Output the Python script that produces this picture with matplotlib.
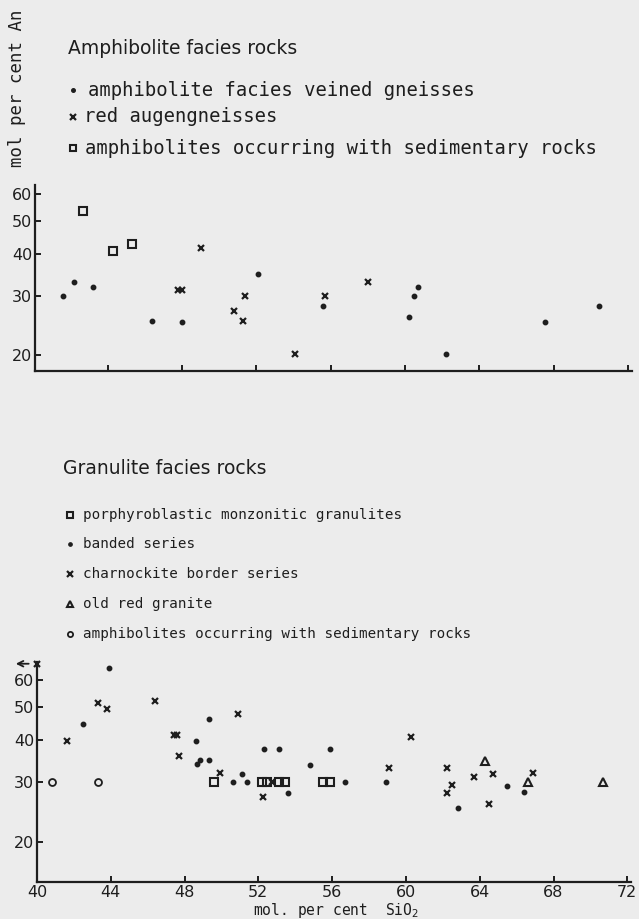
import numpy as np
import matplotlib
matplotlib.use("Agg")
import matplotlib.pyplot as plt
from matplotlib.ticker import NullLocator, FixedLocator

INK = "#1e1e1e"
PAPER = "#ececec"

# ── data: amphibolite facies (top panel) ──────────────────────────────────────
veined_sio2 = [41.6, 42.2, 43.2, 46.4, 48.0, 52.1, 55.6, 60.2, 60.5, 60.7, 62.2, 67.5, 70.4]
veined_an   = [30.0, 33.0, 31.9, 25.2, 25.0, 34.8, 28.0, 26.0, 29.9, 31.9, 20.1, 25.0, 28.0]

augen_sio2 = [47.8, 48.0, 49.0, 50.8, 51.4, 51.3, 54.1, 55.7, 58.0]
augen_an   = [31.1, 31.1, 41.6, 27.0, 30.0, 25.2, 20.1, 30.0, 33.0]

amph_sed_sio2 = [42.7, 44.3, 45.3]
amph_sed_an   = [53.7, 40.8, 42.8]

# ── data: granulite facies (bottom panel) ─────────────────────────────────────
porph_sio2 = [49.6, 52.2, 52.45, 53.1, 53.45, 55.5, 55.9]
porph_an   = [30.0, 30.0, 30.0, 30.0, 30.0, 30.0, 30.0]

banded_sio2 = [42.5, 43.9, 48.6, 48.7, 48.85, 49.35, 49.3, 50.6, 51.1, 51.4,
               52.3, 53.1, 53.6, 54.8, 55.9, 56.7, 58.9, 62.8, 65.5, 66.4]
banded_an   = [44.6, 65.2, 39.8, 33.9, 35.0, 35.0, 46.2, 30.0, 31.8, 30.0,
               37.7, 37.7, 28.0, 33.7, 37.7, 30.0, 30.0, 25.3, 29.3, 28.1]

charn_sio2 = [41.6, 43.3, 43.8, 46.4, 47.4, 47.6, 47.7, 49.9, 50.9, 52.25,
              52.75, 59.1, 60.3, 62.2, 62.5, 62.2, 63.7, 64.7, 64.5, 66.9]
charn_an   = [39.8, 51.4, 49.5, 52.0, 41.5, 41.5, 35.9, 31.9, 47.9, 27.1,
              30.0, 33.1, 40.8, 33.1, 29.5, 27.9, 31.1, 31.8, 26.0, 31.9]
# one charnockite sample plotted off scale (below 40 % SiO2)
charn_off_sio2 = [40.0]
charn_off_an   = [67.2]

granite_sio2 = [64.3, 66.6, 70.7]
granite_an   = [34.6, 30.0, 30.0]

amph_gran_sio2 = [40.8, 43.3]
amph_gran_an   = [30.0, 30.0]

Y_TICKS = [20, 30, 40, 50, 60]
X_TICKS = [40, 44, 48, 52, 56, 60, 64, 68, 72]

W, H = 639, 919
fig = plt.figure(figsize=(W / 100, H / 100), dpi=100, facecolor=PAPER)

# styles
DOT = dict(ls="none", marker="o", ms=3.2, color=INK, mec=INK)
CROSS = dict(ls="none", marker="x", ms=5.0, mew=1.6, color=INK)
SQUARE = dict(ls="none", marker="s", ms=5.3, mew=1.5, mfc="none", mec=INK)
TRI = dict(ls="none", marker="^", ms=6.0, mew=1.5, mfc="none", mec=INK)
CIRC = dict(ls="none", marker="o", ms=5.0, mew=1.3, mfc="none", mec=INK)


def style_axes(ax, labels):
    ax.set_facecolor("none")
    ax.set_yscale("log")
    for s in ("top", "right"):
        ax.spines[s].set_visible(False)
    for s in ("left", "bottom"):
        ax.spines[s].set_linewidth(1.6)
        ax.spines[s].set_color(INK)
    ax.yaxis.set_major_locator(FixedLocator(Y_TICKS))
    ax.yaxis.set_minor_locator(NullLocator())
    ax.set_yticklabels([str(t) for t in Y_TICKS])
    ax.xaxis.set_major_locator(FixedLocator(X_TICKS))
    ax.tick_params(direction="in", length=4, width=1.4, color=INK,
                   labelsize=11.5, labelcolor=INK, pad=2)
    if not labels:
        ax.tick_params(axis="x", labelbottom=False)


# ── top panel ─────────────────────────────────────────────────────────────────
ax1 = fig.add_axes([35 / W, 1 - 371 / H, 597 / W, 186 / H])
style_axes(ax1, labels=False)
ax1.plot(veined_sio2, veined_an, **DOT)
ax1.plot(augen_sio2, augen_an, **CROSS)
ax1.plot(amph_sed_sio2, amph_sed_an, **SQUARE)
ax1.set_xlim(40.1, 72.2)
ax1.set_ylim(17.9, 64.0)

# ── bottom panel ──────────────────────────────────────────────────────────────
ax2 = fig.add_axes([37 / W, 1 - 882 / H, 594 / W, 220 / H])
style_axes(ax2, labels=True)
ax2.plot(porph_sio2, porph_an, **SQUARE)
ax2.plot(banded_sio2, banded_an, **DOT)
ax2.plot(charn_sio2, charn_an, **CROSS)
ax2.plot(charn_off_sio2, charn_off_an, clip_on=False, **CROSS)
ax2.plot(granite_sio2, granite_an, **TRI)
ax2.plot(amph_gran_sio2, amph_gran_an, **CIRC)
ax2.annotate("", xy=(charn_off_sio2[0] - 1.3, charn_off_an[0]),
             xytext=(charn_off_sio2[0] - 0.3, charn_off_an[0]),
             arrowprops=dict(arrowstyle="->", color=INK, lw=1.3),
             annotation_clip=False)
ax2.set_xlim(40.0, 72.2)
ax2.set_ylim(15.26, 68.0)

# ── overlay for titles, legends and axis titles (pixel coordinates) ──────────
ov = fig.add_axes([0, 0, 1, 1])
ov.set_xlim(0, W)
ov.set_ylim(H, 0)
ov.axis("off")

MONO = "DejaVu Sans Mono"

ov.text(17, 88, "mol per cent An", rotation=90, ha="center", va="center",
        fontsize=12.5, family=MONO, color=INK)

ov.text(68, 49, "Amphibolite facies rocks", ha="left", va="center",
        fontsize=13.5, color=INK)
top_legend = [
    (90, "amphibolite facies veined gneisses", DOT, 88),
    (117, "red augengneisses", CROSS, 84),
    (148, "amphibolites occurring with sedimentary rocks", SQUARE, 85),
]
for y, label, st, tx in top_legend:
    st2 = dict(st)
    st2["ms"] = st["ms"] * 0.8
    ov.plot([73], [y], clip_on=False, **st2)
    ov.text(tx, y, label, ha="left", va="center", fontsize=13.6,
            family=MONO, color=INK)

ov.text(63, 468, "Granulite facies rocks", ha="left", va="center",
        fontsize=13.5, color=INK)
bottom_legend = [
    (515, "porphyroblastic monzonitic granulites", SQUARE),
    (544, "banded series", DOT),
    (574, "charnockite border series", CROSS),
    (604, "old red granite", TRI),
    (634, "amphibolites occurring with sedimentary rocks", CIRC),
]
for y, label, st in bottom_legend:
    st2 = dict(st)
    st2["ms"] = st["ms"] * 0.75
    ov.plot([70], [y], clip_on=False, **st2)
    ov.text(83, y, label, ha="left", va="center", fontsize=10.3,
            family=MONO, color=INK)

ov.text(336, 910, "mol. per cent  SiO$_2$", ha="center", va="center",
        fontsize=10.5, family=MONO, color=INK)

fig.savefig("out.png", dpi=100, facecolor=PAPER)
